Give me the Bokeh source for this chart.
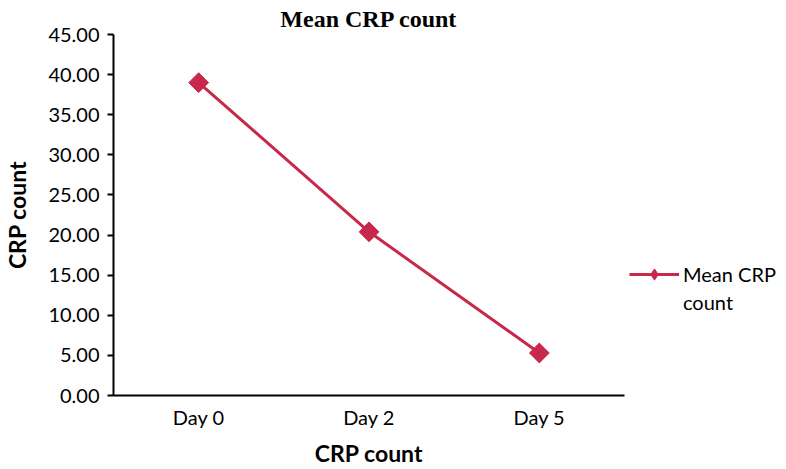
import math
from bokeh.plotting import figure
from bokeh.models import (FactorRange, Range1d, SingleIntervalTicker, NumeralTickFormatter,
                          Legend, LegendItem, ColumnDataSource)
from bokeh.embed import file_html
from bokeh.resources import INLINE

days = ["Day 0", "Day 2", "Day 5"]
mean_crp = [39.0, 20.4, 5.3]

RED = "#C8294B"
FONT = "Lato"

src = ColumnDataSource(dict(day=days, crp=mean_crp))

p = figure(x_range=FactorRange(*days, range_padding=0), y_range=Range1d(0, 45),
           frame_width=511, frame_height=361, min_border_left=111, min_border_top=32,
           min_border_bottom=58, min_border_right=5,
           output_backend="svg", toolbar_location=None, title="Mean CRP count")

p.title.text_font = "Liberation Serif"
p.title.text_font_size = "24px"
p.title.text_font_style = "bold"
p.title.align = "center"
p.title.text_color = "black"
p.title.standoff = 6

ln = p.line("day", "crp", source=src, line_color=RED, line_width=3)
mk = p.scatter("day", "crp", source=src, marker="square", angle=math.pi / 4, size=14,
               fill_color=RED, line_color=RED)
# legend-only swatch (no data drawn in the plot area)
swatch = p.scatter(x=days[:1], y=[float("nan")], marker="diamond", size=18,
                   fill_color=RED, line_color=RED)
ghost = p.line("day", "crp", source=src, line_alpha=0)

p.xgrid.grid_line_color = None
p.ygrid.grid_line_color = None
p.outline_line_color = None

p.yaxis.ticker = SingleIntervalTicker(interval=5)
p.yaxis.formatter = NumeralTickFormatter(format="0.00")
p.yaxis.minor_tick_line_color = None
p.yaxis.major_tick_in = 0
p.yaxis.major_tick_out = 6
p.yaxis.major_label_standoff = 8

for ax in (p.xaxis, p.yaxis):
    ax.axis_line_color = "black"
    ax.axis_line_width = 2
    ax.major_tick_line_color = "black"
    ax.major_tick_line_width = 2
    ax.major_label_text_font = FONT
    ax.major_label_text_font_size = "20px"
    ax.major_label_text_color = "black"
    ax.axis_label_text_font = FONT
    ax.axis_label_text_font_size = "23px"
    ax.axis_label_text_font_style = "bold"
    ax.axis_label_text_color = "black"

p.xaxis.major_tick_line_color = None
p.xaxis.major_tick_out = 0
p.xaxis.major_tick_in = 0
p.xaxis.major_label_standoff = 9
p.xaxis.axis_label = "CRP count"
p.xaxis.axis_label_standoff = 7
p.yaxis.axis_label = "CRP count"
p.yaxis.axis_label_standoff = 14

legend = Legend(items=[LegendItem(label="Mean CRP", renderers=[ln, swatch]),
                       LegendItem(label="count", renderers=[ghost])],
                location=(5, 79), border_line_color=None, background_fill_alpha=0,
                glyph_width=50, glyph_height=28, label_height=24, spacing=0,
                padding=0, margin=0, label_standoff=4,
                label_text_font=FONT, label_text_font_size="20px", label_text_color="black")
p.add_layout(legend, "right")

open("out.html", "w").write(file_html(p, INLINE))
